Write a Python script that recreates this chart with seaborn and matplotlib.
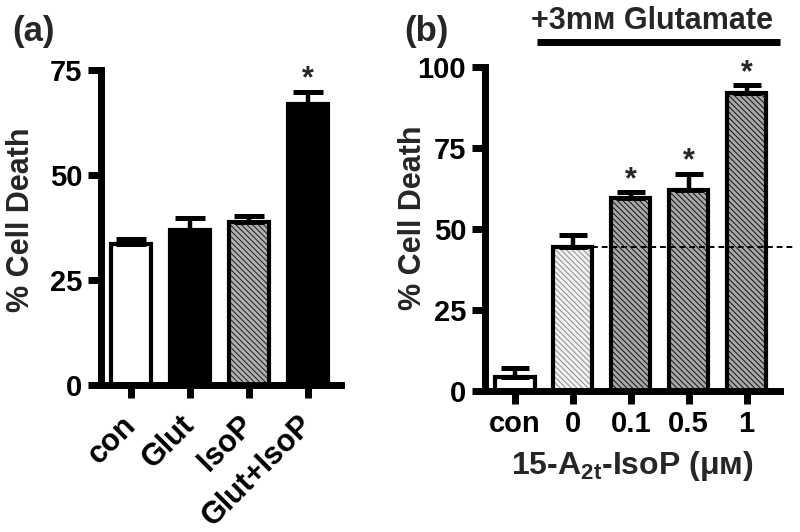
import matplotlib
matplotlib.use("Agg")
import matplotlib.pyplot as plt
import numpy as np
import seaborn as sns
from matplotlib.patches import Rectangle

# ---- data ----
a_labels = ["con", "Glut", "IsoP", "Glut+IsoP"]
a_values = [33.5, 36.8, 38.8, 67.0]
a_errors = [1.2, 3.0, 1.4, 2.8]
a_sig = [False, False, False, True]

b_labels = ["con", "0", "0.1", "0.5", "1"]
b_values = [4.3, 44.4, 59.5, 62.0, 92.0]
b_errors = [2.8, 3.7, 1.8, 5.1, 2.4]
b_sig = [False, False, True, True, True]

# ---- styles ----
a_faces = ["white", "black", "#b0b0b0", "black"]
a_hatch = [None, None, "#1a1a1a", None]
b_faces = ["white", "#f2f2f2", "#a8a8a8", "#a8a8a8", "#a8a8a8"]
b_hatch = [None, "#8c8c8c", "#101010", "#101010", "#101010"]

sns.set_style("ticks")
plt.rcParams["font.family"] = ["Liberation Sans", "DejaVu Sans"]
plt.rcParams["font.weight"] = "bold"
plt.rcParams["axes.labelweight"] = "bold"
plt.rcParams["hatch.linewidth"] = 0.7
plt.rcParams["mathtext.fontset"] = "custom"
plt.rcParams["mathtext.rm"] = "Liberation Sans:bold"
plt.rcParams["mathtext.it"] = "Liberation Sans:bold"
plt.rcParams["mathtext.bf"] = "Liberation Sans:bold"
plt.rcParams["mathtext.default"] = "rm"


def draw_panel(ax, labels, values, errors, sig, faces, hatches, capsize):
    sns.barplot(x=labels, y=values, hue=labels, palette=faces, legend=False,
                width=0.68, errorbar=None, linewidth=0, saturation=1, ax=ax)
    for p, hc in zip(ax.patches, hatches):
        if hc is not None:
            p.set_edgecolor(hc)
            p.set_hatch("\\" * 6)
        else:
            p.set_edgecolor("none")
        p.set_zorder(2)
        ax.add_patch(Rectangle(p.get_xy(), p.get_width(), p.get_height(),
                               facecolor="none", edgecolor="black",
                               linewidth=3.0, joinstyle="miter", zorder=4))
    x = np.arange(len(labels))
    ax.errorbar(x, values, yerr=[np.zeros(len(values)), errors], fmt="none",
                ecolor="black", elinewidth=3.2, capsize=capsize, capthick=3.6,
                zorder=3)
    for xi, v, e, s in zip(x, values, errors, sig):
        if s:
            ax.annotate("*", (xi, v + e), xytext=(0, 3), textcoords="offset points",
                        ha="center", va="baseline", fontsize=22, fontweight="bold",
                        annotation_clip=False)

    for side in ["top", "right"]:
        ax.spines[side].set_visible(False)
    for side in ["left", "bottom"]:
        ax.spines[side].set_linewidth(5)
        ax.spines[side].set_color("black")
        ax.spines[side].set_capstyle("projecting")
    ax.tick_params(axis="both", width=5, length=9.5, direction="out",
                   labelsize=21, pad=4, colors="black")
    ax.set_xlabel("")


fig = plt.figure(figsize=(8, 5.32), dpi=100)

# ---- panel (a) ----
ax_a = fig.add_axes([0.126, 0.2763, 0.30, 0.592])
draw_panel(ax_a, a_labels, a_values, a_errors, a_sig, a_faces, a_hatch, 11)
ax_a.set_ylim(0, 75)
ax_a.set_yticks([0, 25, 50, 75])
ax_a.set_xlim(-0.52, len(a_labels) - 1 + 0.555)
plt.setp(ax_a.get_xticklabels(), rotation=45, ha="right", va="center",
         rotation_mode="anchor", fontsize=22)
ax_a.tick_params(axis="x", pad=16)
ax_a.set_ylabel("% Cell Death", fontsize=22)
ax_a.yaxis.set_label_coords(-0.27, 0.524)

# ---- panel (b) ----
ax_b = fig.add_axes([0.606, 0.265, 0.369, 0.609])
draw_panel(ax_b, b_labels, b_values, b_errors, b_sig, b_faces, b_hatch, 10)
ax_b.set_ylim(0, 100)
ax_b.set_yticks([0, 25, 50, 75, 100])
ax_b.set_xlim(-0.518, len(b_labels) - 1 + 0.575)
ax_b.set_ylabel("% Cell Death", fontsize=22)
ax_b.yaxis.set_label_coords(-0.193, 0.534)
ax_b.set_xlabel("15-A$_{2t}$-IsoP (μᴍ)", fontsize=23)
ax_b.xaxis.set_label_coords(0.5, -0.18)

# dashed reference line at the glutamate-only mean
ax_b.hlines(b_values[1], 1 + 0.34, 4.8, colors="black", linestyles=(0, (3, 2)),
            linewidth=1.4, zorder=5, clip_on=False)

# glutamate bracket bar and label
ax_b.plot([0.38, len(b_labels) - 1 + 0.575], [1.076, 1.076], color="black",
          linewidth=5, solid_capstyle="butt", clip_on=False,
          transform=ax_b.get_xaxis_transform())
fig.text(652 / 800, 1 - 21 / 532, "+3mᴍ Glutamate", ha="center", va="center",
         fontsize=22, fontweight="bold")

# panel letters
fig.text(33 / 800, 1 - 32 / 532, "(a)", ha="center", va="center", fontsize=25,
         fontweight="bold")
fig.text(426 / 800, 1 - 32 / 532, "(b)", ha="center", va="center", fontsize=25,
         fontweight="bold")

fig.savefig("out.png", dpi=100)
plt.close(fig)
